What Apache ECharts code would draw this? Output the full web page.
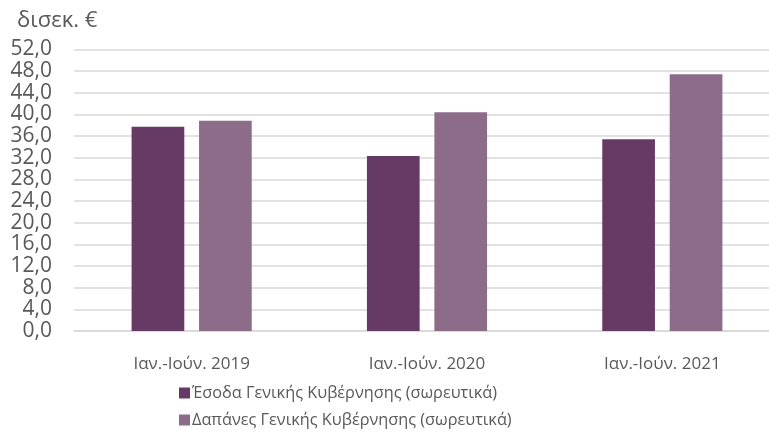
<!DOCTYPE html>
<html><head><meta charset="utf-8">
<script src="https://cdn.jsdelivr.net/npm/echarts@6/dist/echarts.min.js"></script>
<style>html,body{margin:0;padding:0;background:#fff}#c{width:769px;height:434px}</style>
</head><body><div id="c"></div>
<script>
const categories = ['Ιαν.-Ιούν. 2019', 'Ιαν.-Ιούν. 2020', 'Ιαν.-Ιούν. 2021'];
const revenue = [37.7, 32.3, 35.4];
const expenditure = [38.8, 40.4, 47.4];
const seriesNames = ['Έσοδα Γενικής Κυβέρνησης (σωρευτικά)', 'Δαπάνες Γενικής Κυβέρνησης (σωρευτικά)'];
const unitLabel = 'δισεκ. €';

const FONT = '"Open Sans", sans-serif';
const TXT = '#595959';
const legendBase = {
  orient: 'vertical', left: 179, padding: 0,
  itemWidth: 11, itemHeight: 11, icon: 'rect',
  textStyle: {fontFamily: FONT, fontSize: 16.3, color: TXT, padding: [0,0,0,-3]}
};
const chart = echarts.init(document.getElementById('c'), null, {renderer: 'canvas'});
chart.setOption({
  animation: false,
  title: {text: unitLabel, left: 12, top: 5, textStyle: {fontFamily: FONT, fontSize: 22, fontWeight: 'normal', color: TXT}},
  grid: {left: 74, top: 49.3, width: 706, height: 281.7, containLabel: false, outerBoundsMode: 'none'},
  legend: [
    Object.assign({}, legendBase, {data: [seriesNames[0]], top: 385}),
    Object.assign({}, legendBase, {data: [seriesNames[1]], top: 412})
  ],
  xAxis: {
    type: 'category', data: categories,
    axisLine: {show: true, lineStyle: {color: '#d9d9d9', width: 1.5}},
    axisTick: {show: false},
    axisLabel: {fontFamily: FONT, fontSize: 17, color: TXT, margin: 25}
  },
  yAxis: {
    type: 'value', min: 0, max: 52, interval: 4,
    axisLine: {show: false}, axisTick: {show: false},
    splitLine: {lineStyle: {color: '#d9d9d9', width: 1.5}},
    axisLabel: {fontFamily: FONT, fontSize: 21, color: TXT, margin: 22,
      formatter: v => v.toFixed(1).replace('.', ',')}
  },
  series: [
    {name: seriesNames[0], type: 'bar', data: revenue, barWidth: 52.7, barGap: '28%',
     itemStyle: {color: '#673a65'}},
    {name: seriesNames[1], type: 'bar', data: expenditure, barWidth: 52.7, barGap: '28%',
     itemStyle: {color: '#8d6c8a'}}
  ]
});
</script></body></html>
